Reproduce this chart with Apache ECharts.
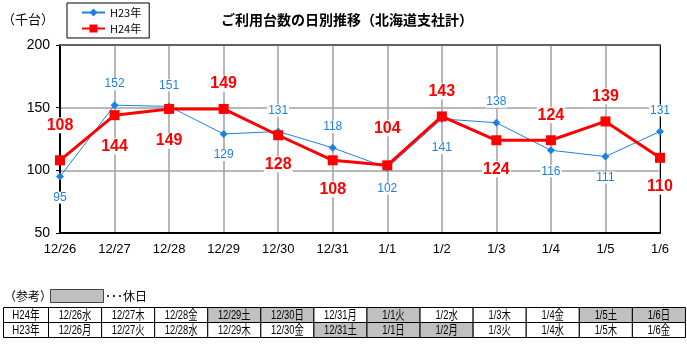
<!DOCTYPE html>
<html>
<head>
<meta charset="utf-8">
<script src="https://cdn.jsdelivr.net/npm/echarts@6/dist/echarts.min.js"></script>
<style>
html,body{margin:0;padding:0;background:#fff;}
#c{width:687px;height:344px;}
</style>
</head>
<body>
<div id="c"></div>
<script>
// Daily usage (thousand vehicles), Hokkaido branch total
const categories = ['12/26','12/27','12/28','12/29','12/30','12/31','1/1','1/2','1/3','1/4','1/5','1/6'];
const h23 = [95, 152, 151, 129, 131, 118, 102, 141, 138, 116, 111, 131];
const h24 = [108, 144, 149, 149, 128, 108, 104, 143, 124, 124, 139, 110];
const yTicks = [50, 100, 150, 200];

// Reference table: dates with weekday, and which ones are holidays
const rowH24 = ['12/26水','12/27木','12/28金','12/29土','12/30日','12/31月','1/1火','1/2水','1/3木','1/4金','1/5土','1/6日'];
const rowH23 = ['12/26月','12/27火','12/28水','12/29木','12/30金','12/31土','1/1日','1/2月','1/3火','1/4水','1/5木','1/6金'];
const offH24 = [0,0,0,1,1,0,1,0,0,0,1,1];
const offH23 = [0,0,0,0,0,1,1,1,0,0,0,0];

const NUM_FONT = '"Liberation Sans", Arial, sans-serif';
const JP_FONT = '"Noto Sans CJK JP", sans-serif';
const CELL_FONT = '13px "Liberation Sans", "Noto Sans CJK JP", sans-serif';
const BLUE = '#1f80e0';
const RED = '#ff0000';

// extra gap for a few labels that sit further from their point
const extraGapH23 = {7: 8};
const extraGapH24 = {0: 10, 6: 12, 1: 2, 2: 3};

const chart = echarts.init(document.getElementById('c'), null, {renderer: 'canvas'});

// Label goes on the side away from the other series
function withLabels(vals, other, up, down, extra) {
  return vals.map((v, i) => {
    const above = v >= other[i];
    const gap = (above ? up : down) + (extra[i] || 0);
    return {value: v, label: {position: above ? 'top' : 'bottom', distance: gap}};
  });
}

// Build the bottom reference table as graphic elements
function buildTable() {
  const els = [];
  const x0 = 3.5, firstW = 45, colW = 53.08, rowTop = 307.5, rowH = 15;
  const rows = [['H24年', rowH24, offH24], ['H23年', rowH23, offH23]];
  rows.forEach((r, ri) => {
    const y = rowTop + ri * rowH;
    els.push({type: 'rect', shape: {x: x0, y: y, width: firstW, height: rowH},
      style: {fill: '#fff', stroke: '#000', lineWidth: 1}});
    els.push({type: 'text', x: x0 + firstW / 2, y: y + rowH / 2 + 0.5, scaleX: 0.74,
      style: {text: r[0], font: CELL_FONT, fill: '#000', align: 'center', verticalAlign: 'middle'}});
    r[1].forEach((t, ci) => {
      const x = x0 + firstW + ci * colW;
      els.push({type: 'rect', shape: {x: x, y: y, width: colW, height: rowH},
        style: {fill: r[2][ci] ? '#c0c0c0' : '#fff', stroke: '#000', lineWidth: 1}});
      els.push({type: 'text', x: x + colW / 2, y: y + rowH / 2 + 0.5, scaleX: 0.72,
        style: {text: t, font: CELL_FONT, fill: '#000', align: 'center', verticalAlign: 'middle'}});
    });
  });
  // key: shaded box means holiday
  els.push({type: 'text', x: 4, y: 296,
    style: {text: '（参考）', font: '12px ' + JP_FONT, fill: '#000', align: 'left', verticalAlign: 'middle'}});
  els.push({type: 'rect', shape: {x: 50.5, y: 289.5, width: 53, height: 13},
    style: {fill: '#c0c0c0', stroke: '#444', lineWidth: 1}});
  els.push({type: 'text', x: 105, y: 296,
    style: {text: '･･･休日', font: '12px ' + JP_FONT, fill: '#000', align: 'left', verticalAlign: 'middle'}});
  return els;
}

const option = {
  backgroundColor: '#fff',
  animation: false,
  title: {
    text: 'ご利用台数の日別推移（北海道支社計）',
    left: 342, textAlign: 'center', top: 8,
    textStyle: {fontFamily: JP_FONT, fontSize: 14, fontWeight: 'bold', color: '#000'}
  },
  legend: {
    left: 67, top: 3, orient: 'vertical',
    itemWidth: 23, itemHeight: 10, itemGap: 5,
    padding: [4, 8, 4, 14],
    borderColor: '#000', borderWidth: 1,
    textStyle: {fontFamily: JP_FONT, fontSize: 11, color: '#000'},
    data: ['H23年', 'H24年']
  },
  grid: {left: 60, right: 27, top: 45, bottom: 111},
  xAxis: [{
    type: 'category', data: categories, boundaryGap: false,
    axisLine: {lineStyle: {color: '#000', width: 2}},
    axisTick: {show: false},
    axisLabel: {fontFamily: NUM_FONT, fontSize: 13, color: '#000', margin: 10},
    splitLine: {show: true, lineStyle: {color: '#a0a0a0', width: 1.5}}
  }, {
    type: 'category', data: categories, boundaryGap: false, position: 'top',
    axisLine: {lineStyle: {color: '#606060', width: 2}},
    axisTick: {show: false}, axisLabel: {show: false}
  }],
  yAxis: [{
    type: 'value', min: yTicks[0], max: yTicks[yTicks.length - 1], interval: 50,
    axisLine: {show: true, lineStyle: {color: '#000', width: 2}},
    axisTick: {show: true, length: 4, lineStyle: {color: '#000'}},
    axisLabel: {fontFamily: NUM_FONT, fontSize: 14, color: '#000', margin: 10},
    splitLine: {show: true, lineStyle: {color: '#a0a0a0', width: 1.5}}
  }, {
    type: 'value', min: yTicks[0], max: yTicks[yTicks.length - 1], interval: 50, position: 'right',
    axisLine: {show: true, lineStyle: {color: '#000', width: 1}},
    axisTick: {show: false}, axisLabel: {show: false}, splitLine: {show: false}
  }],
  graphic: [{
    type: 'text', x: 2, y: 19,
    style: {text: '（千台）', font: '13px ' + JP_FONT, fill: '#000', align: 'left', verticalAlign: 'middle'}
  }].concat(buildTable()),
  series: [{
    name: 'H23年', type: 'line',
    data: withLabels(h23, h24, 11, 11, extraGapH23),
    symbol: 'diamond', symbolSize: 8,
    lineStyle: {color: BLUE, width: 1},
    itemStyle: {color: BLUE},
    label: {show: true, fontFamily: NUM_FONT, fontSize: 12, color: BLUE,
      backgroundColor: '#fff', padding: [0, 1]},
    z: 2
  }, {
    name: 'H24年', type: 'line',
    data: withLabels(h24, h23, 12, 16, extraGapH24),
    symbol: 'rect', symbolSize: 10,
    lineStyle: {color: RED, width: 3},
    itemStyle: {color: RED},
    label: {show: true, fontFamily: NUM_FONT, fontSize: 16, fontWeight: 'bold', color: RED,
      backgroundColor: '#fff', padding: [0, 1]},
    z: 3
  }]
};
chart.setOption(option);
</script>
</body>
</html>
